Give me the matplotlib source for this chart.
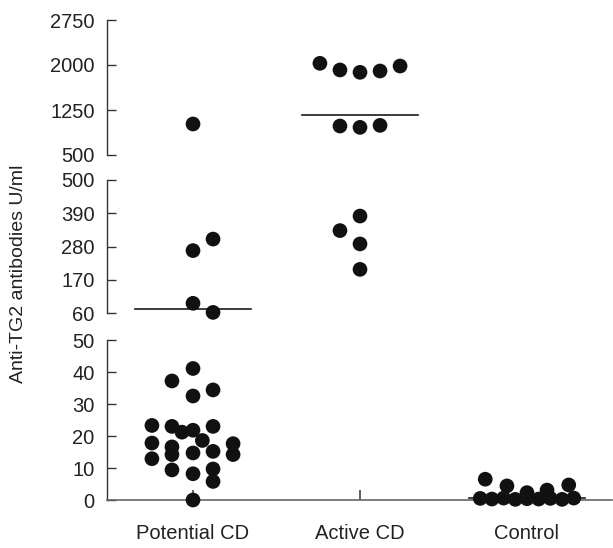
import matplotlib
matplotlib.use("Agg")
import matplotlib.pyplot as plt
import numpy as np

plt.rcParams['font.family'] = ['Liberation Sans', 'DejaVu Sans']

# ---- data ----
categories = ["Potential CD", "Active CD", "Control"]

# jitter offsets (x, relative to group centre) and values (U/ml)
potential_dx = [0, -0.126, 0, 0.12, -0.246, -0.126, -0.066, 0, 0.12,
                -0.246, -0.126, 0.056, 0.24, -0.246, -0.126, 0, 0.12, 0.24,
                -0.126, 0, 0.12, 0.12, 0,
                0, 0.12, 0, 0, 0.12]
potential_val = [41.1, 37.2, 32.5, 34.4, 23.3, 23.0, 21.2, 21.8, 23.0,
                 17.8, 16.6, 18.6, 17.6, 12.9, 14.2, 14.7, 15.2, 14.2,
                 9.4, 8.2, 9.7, 5.8, 0,
                 1017, 305, 267, 93, 63]

active_dx = [-0.24, -0.12, 0, 0.12, 0.24, -0.12, 0, 0.12, 0, -0.12, 0, 0]
active_val = [2028, 1917, 1878, 1900, 1983, 983, 961, 994, 381, 333, 289, 205]

control_dx = [-0.25, -0.12, 0.0, 0.12, 0.25,
              -0.28, -0.21, -0.14, -0.07, 0.0, 0.07, 0.14, 0.21, 0.28]
control_val = [6.5, 4.4, 2.3, 3.1, 4.7,
               0.5, 0.3, 0.6, 0.2, 0.4, 0.3, 0.5, 0.2, 0.6]

group_means = [74, 1167, 0.5]

# axis segments: (low, high, ticks)
segments = [
    (0, 50, [0, 10, 20, 30, 40, 50]),
    (60, 500, [60, 170, 280, 390, 500]),
    (500, 2750, [500, 1250, 2000, 2750]),
]

# ---- layout (pixels, from top) ----
W, H = 613, 548
fig = plt.figure(figsize=(W / 100, H / 100), dpi=100)
seg_px = [(340, 500), (180, 313.3), (20, 155)]
left_px, right_px = 107, 612

axes = []
for (lo, hi, ticks), (top, bot) in zip(segments, seg_px):
    ax = fig.add_axes([left_px / W, (H - bot) / H, (right_px - left_px) / W, (bot - top) / H])
    ax.set_ylim(lo, hi)
    ax.set_xlim(0.485, 3.509)
    ax.set_yticks(ticks)
    ax.set_yticklabels([str(t) for t in ticks])
    ax.patch.set_alpha(0)
    for s in ['top', 'right']:
        ax.spines[s].set_visible(False)
    ax.spines['left'].set_color('#333333')
    ax.spines['left'].set_linewidth(1.0)
    ax.tick_params(axis='y', direction='in', length=6.5, width=1.0, color='#333333',
                   labelsize=14.5, labelcolor='#222222', pad=9)
    axes.append(ax)

for ax in axes[1:]:
    ax.spines['bottom'].set_visible(False)
    ax.set_xticks([])

ax0 = axes[0]
ax0.spines['bottom'].set_color('#666666')
ax0.spines['bottom'].set_linewidth(1.2)
ax0.set_xticks([1, 2, 3])
ax0.set_xticklabels(categories)
ax0.tick_params(axis='x', direction='in', length=7, width=1.2, color='#444444',
                labelsize=14.5, labelcolor='#222222', pad=17)


def pick_axis(v):
    if v <= 50:
        return axes[0]
    if v <= 500:
        return axes[1]
    return axes[2]


groups = [(potential_dx, potential_val), (active_dx, active_val), (control_dx, control_val)]
for gi, (dxs, vals) in enumerate(groups):
    for dx, v in zip(dxs, vals):
        pick_axis(v).scatter(gi + 1 + dx, v, s=112, color='#111111', edgecolors='none',
                             clip_on=False, zorder=4)
    m = group_means[gi]
    pick_axis(m).plot([gi + 1 - 0.35, gi + 1 + 0.35], [m, m], color='#1a1a1a', lw=1.2,
                      clip_on=False, zorder=3)

fig.text(19 / W, 1 - 273.5 / H, "Anti-TG2 antibodies U/ml", rotation=90,
         ha='center', va='center', fontsize=14, color='#222222')

fig.savefig("out.png", dpi=100, facecolor='white')
